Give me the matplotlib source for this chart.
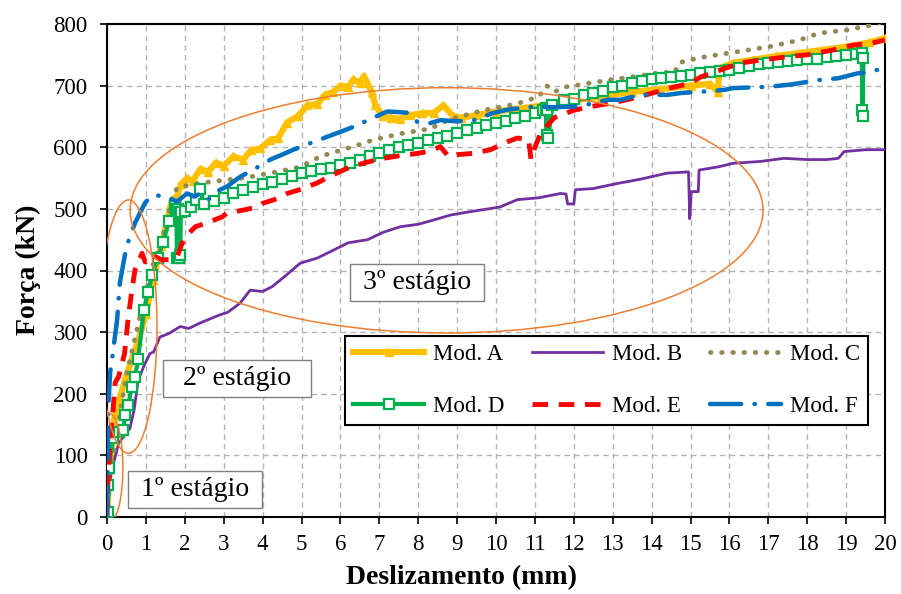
import numpy as np
import matplotlib
matplotlib.use("Agg")
import matplotlib.pyplot as plt
from matplotlib.patches import Ellipse

plt.rcParams['font.family'] = ['Liberation Serif', 'DejaVu Serif']

# Mod. A (gold, triangles)
a_x = [0, 0.05, 0.2, 0.5, 0.8, 1.0, 1.18, 1.4, 1.67, 1.8, 1.9, 2.06, 2.2, 2.4, 2.6, 2.8,
       3.0, 3.25, 3.5, 3.7, 3.94, 4.2, 4.4, 4.63, 4.9, 5.15, 5.4, 5.6, 5.82, 6.0, 6.2,
       6.33, 6.5, 6.6, 6.69, 6.8, 6.9, 7.1, 7.3, 7.54, 7.8, 8.1, 8.4, 8.65, 8.9, 9.1,
       9.5, 10.0, 10.5, 11.0, 11.4, 12.0, 12.7, 13.5, 14.2, 15.0, 15.5, 15.7, 15.75,
       16.1, 16.6, 17.2, 17.8, 18.4, 19.0, 19.6, 20.0]
a_y = [0, 60, 165, 230, 285, 330, 385, 440, 515, 520, 540, 550, 545, 565, 560, 575,
       570, 585, 580, 595, 598, 612, 615, 640, 650, 668, 670, 685, 690, 700, 698,
       710, 705, 715, 705, 690, 668, 650, 648, 646, 652, 655, 656, 668, 650, 648,
       652, 658, 662, 666, 670, 676, 682, 690, 694, 700, 703, 690, 728,
       737, 742, 748, 753, 758, 763, 770, 777]

# Mod. B (purple)
b_x = [0, 0.1, 0.3, 0.59, 0.7, 0.8, 0.95, 1.1, 1.2, 1.36, 1.6, 1.88, 2.1, 2.4, 2.9,
       3.1, 3.42, 3.68, 4.0, 4.25, 4.6, 4.97, 5.4, 5.82, 6.2, 6.7, 7.1, 7.54, 8.0,
       8.4, 8.83, 9.2, 9.6, 10.1, 10.55, 11.1, 11.66, 11.8, 11.84, 12.0, 12.04, 12.5,
       13.1, 13.7, 14.4, 14.95, 14.98, 15.02, 15.2, 15.22, 15.7, 16.1, 16.8, 17.4,
       18.0, 18.5, 18.8, 18.95, 19.5, 20.0]
b_y = [0, 70, 120, 144, 175, 222, 245, 265, 268, 292, 298, 309, 306, 315, 328,
       332, 347, 368, 366, 374, 392, 412, 420, 433, 445, 450, 462, 471, 475,
       482, 490, 494, 498, 503, 515, 518, 525, 524, 508, 508, 531, 533,
       541, 548, 558, 560, 484, 528, 528, 563, 568, 574, 577, 582,
       580, 580, 582, 593, 596, 596]

# Mod. C (olive, dotted)
c_x = [0, 0.1, 0.5, 0.9, 1.24, 1.41, 1.67, 1.8, 2.2, 2.8, 3.5, 4.2, 4.97, 5.48, 6.0,
       6.33, 6.85, 7.54, 8.3, 8.8, 9.68, 10.5, 11.1, 11.3, 11.5, 11.8, 12.9, 13.6,
       14.2, 14.6, 14.7, 15.2, 15.9, 16.5, 17.1, 17.8, 18.3, 19.0, 19.56, 20.0]
c_y = [0, 80, 230, 340, 422, 450, 515, 534, 540, 545, 550, 558, 568, 585, 595,
       601, 612, 622, 630, 645, 660, 670, 682, 700, 690, 698, 709, 715,
       721, 722, 737, 745, 752, 758, 764, 774, 785, 790, 797, 805]

# Mod. D (green, open squares)
d_x = [0, 0.02, 0.03, 0.05, 0.15, 0.3, 0.42, 0.46, 0.55, 0.63, 0.72, 0.8, 0.95, 1.05,
       1.16, 1.3, 1.44, 1.6, 1.75, 1.78, 1.8, 1.82, 1.84, 1.86, 1.88, 1.9, 2.0, 2.15,
       2.3, 2.4, 2.5, 2.75, 3.0, 3.25, 3.5, 3.75, 4.0, 4.25, 4.5, 4.75, 5.0, 5.25,
       5.5, 5.75, 6.0, 6.25, 6.5, 6.75, 7.0, 7.25, 7.5, 7.75, 8.0, 8.25, 8.5, 8.75,
       9.0, 9.25, 9.5, 9.75, 10.0, 10.25, 10.5, 10.75, 11.0, 11.2, 11.28, 11.3, 11.32,
       11.34, 11.45, 11.75, 12.0, 12.25, 12.5, 12.75, 13.0, 13.25, 13.5, 13.75, 14.0,
       14.25, 14.5, 14.75, 15.0, 15.25, 15.5, 15.75, 16.0, 16.25, 16.5, 16.75, 17.0,
       17.25, 17.5, 17.75, 18.0, 18.25, 18.5, 18.75, 19.0, 19.25, 19.4, 19.42, 19.44,
       19.43]
d_y = [0, 8, 52, 80, 128, 138, 141, 165, 182, 211, 227, 257, 336, 365,
       393, 420, 446, 480, 505, 500, 420, 500, 420, 495, 425, 495, 497, 503,
       515, 532, 508, 512, 518, 525, 530, 535, 540, 544, 549, 553, 558, 561,
       564, 567, 571, 575, 580, 586, 590, 595, 600, 604, 607, 611, 615, 619,
       623, 628, 632, 636, 640, 643, 647, 651, 656, 660, 664, 620, 660,
       615, 668, 676, 679, 684, 688, 692, 697, 700, 704, 707, 710,
       712, 714, 716, 718, 720, 722, 724, 726, 729, 732, 735, 737,
       739, 740, 742, 743, 744, 746, 748, 750, 752, 753, 660, 745,
       650]

# Mod. E (red, dashed)
e_x = [0, 0.03, 0.1, 0.15, 0.21, 0.3, 0.45, 0.54, 0.64, 0.72, 0.85, 0.9, 0.98, 1.16,
       1.41, 1.6, 1.8, 1.93, 2.1, 2.27, 2.6, 2.96, 3.08, 3.5, 3.86, 4.0, 4.3, 4.63,
       5.0, 5.4, 5.8, 6.25, 6.7, 7.1, 7.5, 7.98, 8.3, 8.57, 8.78, 9.0, 9.4, 9.86,
       10.3, 10.55, 10.84, 10.9, 11.0, 11.15, 11.5, 12.0, 12.43, 13.0, 13.7, 14.4,
       15.0, 15.26, 15.8, 16.3, 16.9, 17.5, 18.0, 18.6, 19.2, 19.6, 20.0]
e_y = [0, 71, 140, 169, 218, 228, 265, 320, 368, 401, 420, 428, 414, 425,
       417, 418, 422, 444, 460, 471, 478, 487, 493, 498, 503, 509, 515, 525,
       532, 542, 555, 568, 576, 582, 586, 590, 594, 601, 585, 588, 590, 596,
       609, 615, 612, 580, 600, 623, 648, 660, 666, 672, 682, 695,
       704, 714, 726, 737, 742, 747, 750, 757, 766, 768, 774]

# Mod. F (blue, dash-dot)
f_x = [0, 0.02, 0.03, 0.08, 0.15, 0.26, 0.33, 0.5, 0.72, 0.98, 1.1, 1.24, 1.4, 1.62,
       1.8, 2.06, 2.25, 2.4, 2.6, 2.8, 3.08, 3.42, 3.8, 4.2, 4.5, 4.79, 5.2, 5.66,
       6.0, 6.33, 6.85, 7.2, 7.5, 7.72, 7.98, 8.3, 8.57, 9.0, 9.43, 9.9, 10.3, 10.97,
       11.5, 12.0, 12.4, 12.87, 13.2, 13.7, 14.4, 14.75, 15.26, 15.86, 16.1, 17.0,
       17.6, 18.3, 18.8, 19.3, 19.6, 20.0]
f_y = [0, 100, 174, 234, 266, 320, 380, 439, 477, 510, 518, 523, 520, 517,
       512, 525, 520, 525, 515, 528, 536, 552, 565, 580, 588, 596, 606, 617,
       625, 633, 648, 658, 657, 656, 641, 639, 644, 642, 644, 655, 661, 666,
       665, 666, 670, 677, 677, 685, 685, 688, 690, 693, 696, 698,
       702, 709, 712, 720, 722, 729]

x_ticks = list(range(0, 21))
y_ticks = list(range(0, 801, 100))

# stage annotations: label, centre x, centre y
stage_labels = [' 1º estágio ', '  2º estágio  ', ' 3º estágio ']
stage_x = [2.27, 3.35, 7.97]
stage_y = [44, 225, 381]

# ellipses: centre x, centre y, width, height
ell_cx = [0.05, 0.55, 8.73]
ell_cy = [79.5, 309, 497.6]
ell_w = [0.72, 1.47, 16.27]
ell_h = [178, 411, 398]

fig = plt.figure(figsize=(9.01, 5.94), dpi=100)
ax = fig.add_axes([107 / 901, 77 / 594, 778 / 901, 493 / 594])

ax.plot(a_x, a_y, color='#FFC000', lw=4.5, marker='^', ms=6, mec='#FFC000',
        label='Mod. A', zorder=3)
ax.plot(b_x, b_y, color='#7030A0', lw=2.0, label='Mod. B', zorder=4)
ax.plot(c_x, c_y, color='#948A54', lw=3.5, linestyle=(0, (0.1, 2.2)),
        dash_capstyle='round', label='Mod. C', zorder=5)
ax.plot(d_x, d_y, color='#00B050', lw=3.0, marker='s', ms=7.5, mfc='white',
        mec='#00B050', mew=1.6, label='Mod. D', zorder=6)
ax.plot(e_x, e_y, color='#FF0000', lw=3.5, linestyle=(0, (3.2, 2.2)),
        label='Mod. E', zorder=7)
ax.plot(f_x, f_y, color='#0070C0', lw=3.2, linestyle=(0, (7, 3, 0.1, 3)),
        dash_capstyle='round', label='Mod. F', zorder=8)

for cx, cy, w, h in zip(ell_cx, ell_cy, ell_w, ell_h):
    ax.add_patch(Ellipse((cx, cy), w, h, fill=False, edgecolor='#ED7D31',
                         lw=1.1, zorder=9))

for txt, tx, ty in zip(stage_labels, stage_x, stage_y):
    ax.text(tx, ty, txt, fontsize=20, ha='center', va='center', zorder=10,
            bbox=dict(boxstyle='square,pad=0.22', fc='white', ec='#7F7F7F', lw=1))

ax.set_xlim(0, 20)
ax.set_ylim(0, 800)
ax.set_xticks(x_ticks)
ax.set_yticks(y_ticks)
ax.tick_params(direction='out', length=5, width=1.2, labelsize=16.5, pad=7)
ax.tick_params(axis='y', pad=9)
ax.grid(True, color='#B4B4B4', linestyle=(0, (4, 3)), lw=1)
ax.set_axisbelow(True)
for sp in ax.spines.values():
    sp.set_linewidth(1.5)
    sp.set_color('black')

handles, labels = ax.get_legend_handles_labels()
order = [0, 3, 1, 4, 2, 5]
leg = ax.legend([handles[i] for i in order], [labels[i] for i in order], ncol=3,
                loc='lower left', bbox_to_anchor=(0.306, 0.187, 0.672, 0.18),
                mode='expand', borderaxespad=0, fontsize=16.5, handlelength=3.1,
                handletextpad=0.4, labelspacing=1.35, borderpad=0.35,
                fancybox=False, framealpha=1, edgecolor='black')
leg.get_frame().set_linewidth(1.5)
leg.set_zorder(11)

fig.text(28 / 901, 1 - 270 / 594, 'Força (kN)', rotation=90, ha='center',
         va='center', fontsize=20, fontweight='bold')
fig.text(461 / 901, 1 - 578 / 594, 'Deslizamento (mm)', ha='center',
         va='center', fontsize=20, fontweight='bold')

fig.savefig('out.png', dpi=100)
